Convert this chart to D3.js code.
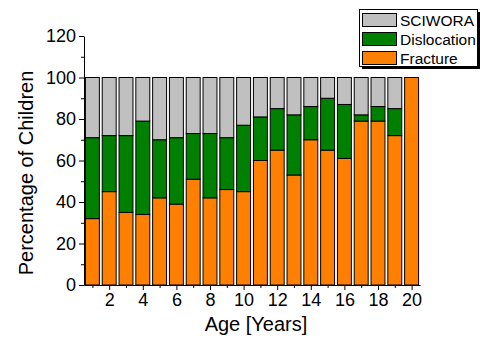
<html>
  <head>
    <script src="https://d3js.org/d3.v7.min.js"></script>
  </head>
  <style>
  body { margin: 0; background: white; }
  text { font-family: "Liberation Sans", Arial, sans-serif; }
  </style>
  <body>
    <svg id="chart" width="480" height="338"></svg>
    <script>
    // data
    const ages = d3.range(1, 21);
    const fracture   = [32, 45, 35, 34, 42, 39, 51, 42, 46, 45, 60, 65, 53, 70, 65, 61, 79, 79, 72, 100];
    const dislocation = [39, 27, 37, 45, 28, 32, 22, 31, 25, 32, 21, 20, 29, 16, 25, 26, 3, 7, 13, 0];
    const sciwora    = [29, 28, 28, 21, 30, 29, 27, 27, 29, 23, 19, 15, 18, 14, 10, 13, 18, 14, 15, 0];
    const seriesNames = ["Fracture", "Dislocation", "SCIWORA"];
    const colors = ["#ff8000", "#008000", "#c0c0c0"];
    const yTicks = [0, 20, 40, 60, 80, 100, 120];
    const xTicks = [2, 4, 6, 8, 10, 12, 14, 16, 18, 20];

    const svg = d3.select("#chart");
    const x = d3.scaleLinear().domain([0.5, 20.5]).range([84, 420]);
    const y = d3.scaleLinear().domain([0, 120]).range([285, 36]);
    const bw = (x(1) - x(0)) * 0.83;

    const rows = ages.map((a, i) => ({age: a, Fracture: fracture[i], Dislocation: dislocation[i], SCIWORA: sciwora[i]}));
    const stacked = d3.stack().keys(seriesNames)(rows);

    svg.append("g").selectAll("g").data(stacked).enter().append("g")
      .attr("fill", (d, i) => colors[i])
      .selectAll("rect").data(d => d.filter(p => p[1] > p[0])).enter().append("rect")
      .attr("x", d => x(d.data.age) - bw / 2)
      .attr("width", bw)
      .attr("y", d => y(d[1]))
      .attr("height", d => y(d[0]) - y(d[1]))
      .attr("stroke", "#000")
      .attr("stroke-width", 1);

    // axes
    svg.append("g").attr("transform", "translate(0,285)")
      .call(d3.axisBottom(x).tickValues(xTicks).tickSize(5).tickSizeOuter(0).tickPadding(3));
    svg.append("g").attr("transform", "translate(0,285)")
      .call(d3.axisBottom(x).tickValues(d3.range(1, 21, 2)).tickSize(3).tickFormat("").tickSizeOuter(0))
      .select(".domain").remove();
    svg.append("g").attr("transform", "translate(84,0)")
      .call(d3.axisLeft(y).tickValues(yTicks).tickSize(5).tickSizeOuter(0).tickPadding(3));
    svg.append("g").attr("transform", "translate(84,0)")
      .call(d3.axisLeft(y).tickValues(d3.range(10, 120, 20)).tickSize(3).tickFormat("").tickSizeOuter(0))
      .select(".domain").remove();
    svg.selectAll(".tick text").attr("font-size", 18).attr("fill", "#000")
      .attr("font-family", "'Liberation Sans', Arial, sans-serif");
    svg.selectAll(".domain, .tick line").attr("stroke", "#000");

    svg.append("text").attr("x", 256).attr("y", 331).attr("text-anchor", "middle")
      .attr("font-size", 20).text("Age [Years]");
    svg.append("text").attr("transform", "translate(33,173) rotate(-90)").attr("text-anchor", "middle")
      .attr("font-size", 20).text("Percentage of Children");

    // legend
    const lg = svg.append("g");
    lg.append("rect").attr("x", 362).attr("y", 12).attr("width", 118).attr("height", 57).attr("fill", "#000");
    lg.append("rect").attr("x", 359.5).attr("y", 9.5).attr("width", 118).attr("height", 57)
      .attr("fill", "#fff").attr("stroke", "#000");
    const items = seriesNames.slice().reverse();
    items.forEach((n, i) => {
      const c = colors[seriesNames.indexOf(n)];
      lg.append("rect").attr("x", 362.5).attr("y", 13.5 + i * 19).attr("width", 34).attr("height", 13)
        .attr("fill", c).attr("stroke", "#000");
      lg.append("text").attr("x", 400).attr("y", 25.5 + i * 19).attr("font-size", 15.5).text(n);
    });
    </script>
  </body>
</html>
